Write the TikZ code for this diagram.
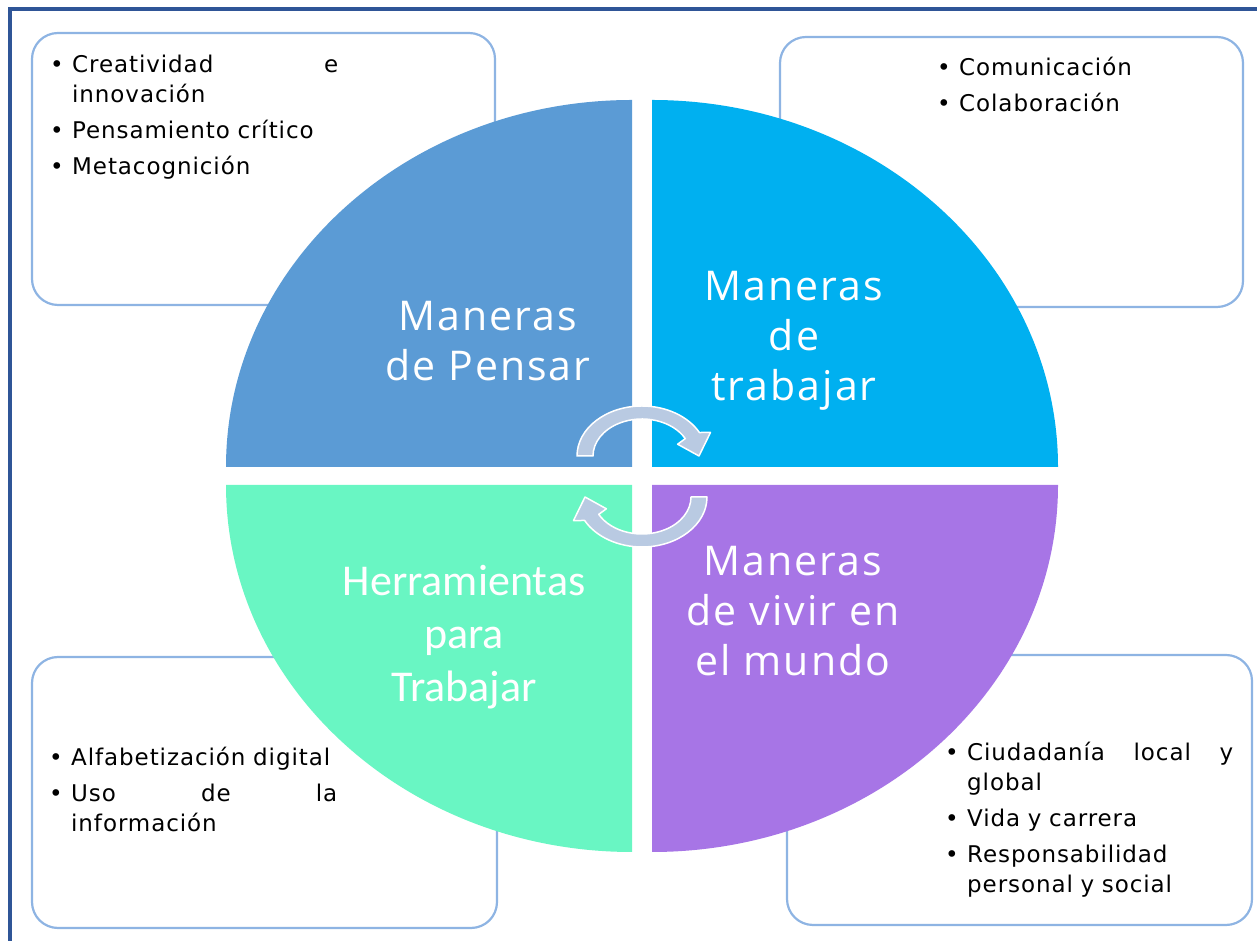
\documentclass[tikz,border=0pt]{standalone}
\usepackage{fontspec}
\setmainfont{DejaVu Sans}
\newfontfamily\listafont{DejaVu Sans}[LetterSpace=4]
\newfontfamily\rotulofont{Open Sans}[LetterSpace=5]
\newfontfamily\carlitofont{Carlito}

\definecolor{marco}{HTML}{2F5597}
\definecolor{borde}{HTML}{8EB4E3}
\definecolor{pensar}{HTML}{5B9BD5}
\definecolor{trabajar}{HTML}{00B0F0}
\definecolor{herram}{HTML}{69F6C3}
\definecolor{vivir}{HTML}{A775E6}
\definecolor{flecha}{HTML}{B9CAE2}

% fonts, bullet item with hanging indent, and a stretched first line
\newcommand\fuentelista{\listafont\fontsize{23}{30}\selectfont}
\newcommand\fuenterotulo{\rotulofont\fontsize{41}{50}\selectfont}
\newcommand\fuenteherram{\carlitofont\fontsize{44}{53}\selectfont}
\newcommand\punto{\par\parskip 6pt\hyphenpenalty 10000 \noindent\hangindent 22pt \hangafter 1 \strut\hbox to 22pt{\textbullet\hfil}}
\newcommand\linea[1]{\hbox to \dimexpr\hsize-22pt\relax{#1}}

\tikzset{
	caja/.style={
		draw=borde,line width=2.2pt,fill=white,rounded corners=26pt,inner sep=0pt
	},
	lista/.style={
		anchor=north west,inner sep=0pt,text width=288pt,font=\fuentelista
	},
	rotulo/.style={
		text=white,align=center,inner sep=0pt,anchor=north,font=\fuenterotulo
	},
	flechita/.style={
		fill=flecha,draw=white,line width=1.5pt,line join=round
	}
}

\begin{document}
\begin{tikzpicture}[x=1pt,y=1pt]
	\useasboundingbox (0,0) rectangle (1257,941);
	% frame
	\draw[marco,line width=4pt] (10,-10) -- (10,932) -- (1270,932);
	
	% boxes
	\node[caja,minimum width=463pt,minimum height=272pt] (cajaPensar) at (263.5,772) {};
	\node[caja,minimum width=463pt,minimum height=270pt] (cajaTrabajar) at (1011.5,769) {};
	\node[caja,minimum width=465pt,minimum height=271pt] (cajaHerram) at (264.5,148.5) {};
	\node[caja,minimum width=465pt,minimum height=270pt] (cajaVivir) at (1019.5,151) {};
	
	\node[lista] (listaPensar) at (50,905) {
		\punto\linea{Creatividad\hfill e} innovación
		\punto Pensamiento crítico
		\punto Metacognición\par
	};
	\node[lista] (listaTrabajar) at (937,902) {
		\punto Comunicación
		\punto Colaboración\par
	};
	\node[lista] (listaHerram) at (49,212) {
		\punto Alfabetización digital
		\punto\linea{Uso\hfill de\hfill la} información\par
	};
	\node[lista] (listaVivir) at (945,217) {
		\punto\linea{Ciudadanía\hfill local\hfill y} global
		\punto Vida y carrera
		\punto Responsabilidad\newline personal y social\par
	};
	
	% quadrants
	\foreach \sx/\sy/\col in {-1/1/pensar,1/1/trabajar,-1/-1/herram,1/-1/vivir}{
		\fill[\col,shift={(642+10*\sx,465+9*\sy)},xscale=\sx,yscale=\sy]
			(0,0) -- (406,0) arc[start angle=0,end angle=90,x radius=406,y radius=367] -- cycle;
	}
	
	\node[rotulo] (lblPensar) at (488,646) {\strut Maneras\\de Pensar};
	\node[rotulo] (lblTrabajar) at (794,676) {\strut Maneras\\de\\trabajar};
	\node[rotulo] (lblVivir) at (793,401) {\strut Maneras\\de vivir en\\el mundo};
	\node[rotulo,font=\fuenteherram] (lblHerram) at (464,383) {\strut Herramientas\\para\\Trabajar};
	
	% arrows in the middle
	\foreach \cy/\giro in {485/0,444/180}{
		\filldraw[flechita,shift={(642,\cy)},rotate=\giro]
			(180:65 and 50) arc[start angle=180,end angle=28,x radius=65,y radius=50]
			-- (24:75 and 58) -- (0:57 and 43) -- (24:39 and 29) -- (28:49 and 37)
			arc[start angle=28,end angle=180,x radius=49,y radius=37] -- cycle;
	}
\end{tikzpicture}
\end{document}
